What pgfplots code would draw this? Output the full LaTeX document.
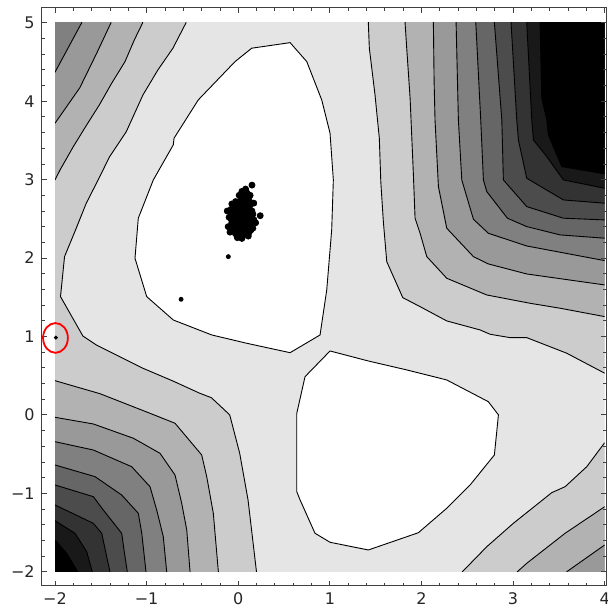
\documentclass[border=0pt]{standalone}
\usepackage{fontspec}
\setmainfont{DejaVu Sans}
\usepackage{pgfplots}
\pgfplotsset{compat=1.18}
\definecolor{g9}{gray}{0.9}
\definecolor{g8}{gray}{0.8}
\definecolor{g7}{gray}{0.7}
\definecolor{g6}{gray}{0.6}
\definecolor{g5}{gray}{0.5}
\definecolor{g4}{gray}{0.4}
\definecolor{g3}{gray}{0.3}
\definecolor{g2}{gray}{0.2}
\definecolor{g1}{gray}{0.1}
\definecolor{g0}{gray}{0.0}
\begin{document}
\begin{tikzpicture}
\useasboundingbox (-119.1pt,-100.05pt) rectangle (184.4pt,207.4pt);
\begin{axis}[x=45.8pt, y=39.2pt, xmin=-2, xmax=4, ymin=-2, ymax=5,
  hide axis, anchor=origin, at={(0pt,0pt)}, clip=true,
  every axis plot/.append style={line width=0.45pt}]
% background level
\addplot[fill=g9, draw=none] coordinates {(-3,-3) (5,-3) (5,6) (-3,6) (-3,-3)};
% left side, level 0.8 (contour from top to bottom)
\addplot[fill=g8, draw=black] coordinates {(-0.570,5.5) (-0.570,5) (-0.713,4.676) (-0.877,4.399) (-1.040,4.080) (-1.222,3.612) (-1.404,3.293) (-1.539,2.974) (-1.659,2.699) (-1.776,2.358) (-1.896,2.018) (-1.940,1.508) (-1.696,1.006) (-1.550,0.892) (-1.331,0.764) (-1.040,0.594) (-0.713,0.432) (-0.421,0.276) (-0.293,0.219) (-0.093,0.0) (0.016,-0.490) (0.107,-1.085) (0.199,-2) (0.199,-2.5) (-2.5,-2.5) (-2.5,5.5) (-0.570,5.5)};
% top-left bands
\addplot[fill=g7, draw=black] coordinates {(-1.043,5.5) (-1.043,5) (-1.134,4.782) (-1.236,4.505) (-1.381,4.230) (-1.516,3.953) (-1.654,3.698) (-1.800,3.421) (-1.945,3.124) (-2,2.996) (-2.5,2.996) (-2.5,5.5) (-1.043,5.5)};
\addplot[fill=g6, draw=black] coordinates {(-1.389,5.5) (-1.389,5) (-1.55,4.60) (-1.73,4.17) (-2,3.719) (-2.5,3.719) (-2.5,5.5) (-1.389,5.5)};
\addplot[fill=g5, draw=black] coordinates {(-1.709,5.5) (-1.709,5) (-2,4.370) (-2.5,4.370) (-2.5,5.5) (-1.709,5.5)};
% bottom-left bands
\addplot[fill=g7, draw=black] coordinates {(-2.5,0.436) (-2,0.436) (-1.509,0.27) (-0.963,0.02) (-0.690,-0.107) (-0.399,-0.511) (-0.344,-0.788) (-0.272,-1.255) (-0.217,-2) (-0.217,-2.5) (-2.5,-2.5) (-2.5,0.436)};
\addplot[fill=g6, draw=black] coordinates {(-2.5,-0.031) (-2,-0.031) (-1.582,-0.116) (-1.145,-0.298) (-0.854,-0.490) (-0.690,-0.767) (-0.617,-1.128) (-0.562,-1.468) (-0.526,-2) (-0.526,-2.5) (-2.5,-2.5) (-2.5,-0.031)};
\addplot[fill=g5, draw=black] coordinates {(-2.5,-0.342) (-2,-0.342) (-1.582,-0.448) (-1.163,-0.661) (-0.963,-0.916) (-0.890,-1.213) (-0.818,-1.554) (-0.781,-2) (-0.781,-2.5) (-2.5,-2.5) (-2.5,-0.342)};
\addplot[fill=g4, draw=black] coordinates {(-2.5,-0.639) (-2,-0.639) (-1.563,-0.788) (-1.272,-1.022) (-1.091,-1.255) (-1.053,-1.510) (-1.007,-2) (-1.007,-2.5) (-2.5,-2.5) (-2.5,-0.639)};
\addplot[fill=g3, draw=black] coordinates {(-2.5,-0.894) (-2,-0.894) (-1.582,-1.043) (-1.473,-1.213) (-1.272,-1.510) (-1.247,-1.723) (-1.211,-2) (-1.211,-2.5) (-2.5,-2.5) (-2.5,-0.894)};
\addplot[fill=g2, draw=black] coordinates {(-2.5,-1.149) (-2,-1.149) (-1.582,-1.383) (-1.490,-1.510) (-1.436,-1.809) (-1.400,-2) (-1.400,-2.5) (-2.5,-2.5) (-2.5,-1.149)};
\addplot[fill=g1, draw=black] coordinates {(-2.5,-1.349) (-2,-1.349) (-1.782,-1.510) (-1.654,-1.745) (-1.593,-2) (-1.593,-2.5) (-2.5,-2.5) (-2.5,-1.349)};
\addplot[fill=g0, draw=black] coordinates {(-2.5,-1.596) (-2,-1.596) (-1.872,-1.765) (-1.752,-2) (-1.752,-2.5) (-2.5,-2.5) (-2.5,-1.596)};
% top-right bands
\addplot[fill=g8, draw=black] coordinates {(1.420,5.5) (1.420,5) (1.431,4.676) (1.493,4.080) (1.540,3.528) (1.556,2.974) (1.584,2.464) (1.621,1.954) (1.796,1.495) (1.985,1.380) (2.276,1.198) (2.640,1.083) (2.749,1.028) (2.967,0.985) (3.149,0.985) (3.586,0.786) (4,0.531) (4.5,0.531) (4.5,5.5) (1.420,5.5)};
\addplot[fill=g7, draw=black] coordinates {(1.821,5.5) (1.821,5) (1.839,4.676) (1.876,4.038) (1.912,3.060) (1.930,2.508) (1.985,2.316) (2.058,2.018) (2.276,1.742) (2.713,1.529) (3.186,1.423) (3.513,1.360) (4,1.253) (4.5,1.253) (4.5,5.5) (1.821,5.5)};
\addplot[fill=g6, draw=black] coordinates {(2.130,5.5) (2.130,5) (2.138,4.250) (2.148,3.761) (2.185,2.911) (2.276,2.380) (2.567,2.018) (2.730,1.925) (3.149,1.797) (4,1.657) (4.5,1.657) (4.5,5.5) (2.130,5.5)};
\addplot[fill=g5, draw=black] coordinates {(2.378,5.5) (2.378,5) (2.403,3.761) (2.440,2.996) (2.567,2.495) (2.730,2.316) (3.149,2.154) (4,1.967) (4.5,1.967) (4.5,5.5) (2.378,5.5)};
\addplot[fill=g4, draw=black] coordinates {(2.593,5.5) (2.593,5) (2.647,3.761) (2.676,2.996) (2.713,2.847) (2.938,2.508) (3.149,2.401) (3.513,2.295) (4,2.253) (4.5,2.253) (4.5,5.5) (2.593,5.5)};
\addplot[fill=g3, draw=black] coordinates {(2.796,5.5) (2.796,5) (2.877,3.761) (2.894,2.996) (3.149,2.656) (3.549,2.508) (4,2.486) (4.5,2.486) (4.5,5.5) (2.796,5.5)};
\addplot[fill=g2, draw=black] coordinates {(2.978,5.5) (2.978,5) (3.040,3.761) (3.058,3.506) (3.149,3.018) (3.549,2.741) (4,2.699) (4.5,2.699) (4.5,5.5) (2.978,5.5)};
\addplot[fill=g1, draw=black] coordinates {(3.149,5.5) (3.149,5) (3.204,3.761) (3.222,3.506) (3.368,3.293) (3.549,2.996) (4,2.890) (4.5,2.890) (4.5,5.5) (3.149,5.5)};
\addplot[fill=g0, draw=black] coordinates {(3.295,5.5) (3.295,5) (3.313,4.038) (3.368,3.761) (3.385,3.570) (3.532,3.166) (4,3.073) (4.5,3.073) (4.5,5.5) (3.295,5.5)};
% bottom-right bands
\addplot[fill=g8, draw=black] coordinates {(2.447,-2.5) (2.447,-2) (2.713,-1.681) (3.003,-1.383) (3.422,-0.992) (3.568,-0.916) (3.804,-0.661) (4,-0.355) (4.5,-0.355) (4.5,-2.5) (2.447,-2.5)};
\addplot[fill=g7, draw=black] coordinates {(3.047,-2.5) (3.047,-2) (3.149,-1.893) (3.568,-1.510) (4,-1.171) (4.5,-1.171) (4.5,-2.5) (3.047,-2.5)};
\addplot[fill=g6, draw=black] coordinates {(3.586,-2.5) (3.586,-2) (4,-1.659) (4.5,-1.659) (4.5,-2.5) (3.586,-2.5)};
% white regions
\addplot[fill=white, draw=black] coordinates {(0.147,4.676) (0.566,4.747) (0.748,4.505) (0.911,4.017) (1.002,3.592) (1.038,2.996) (1.020,2.358) (0.966,1.593) (0.893,1.019) (0.566,0.793) (0.093,0.913) (-0.289,1.019) (-0.709,1.210) (-0.999,1.508) (-1.127,1.997) (-1.091,2.508) (-0.927,2.996) (-0.709,3.443) (-0.701,3.528) (-0.436,4.017) (-0.035,4.505) (0.147,4.676)};
\addplot[fill=white, draw=black] coordinates {(1.002,0.815) (1.420,0.687) (1.840,0.573) (2.276,0.445) (2.730,0.168) (2.840,0.0) (2.796,-0.511) (2.531,-0.894) (2.276,-1.191) (1.966,-1.503) (1.420,-1.723) (1.002,-1.625) (0.838,-1.510) (0.675,-1.085) (0.639,-0.980) (0.639,0.020) (0.729,0.487) (1.002,0.815)};
\end{axis}
\begin{axis}[x=45.8pt, y=39.2pt, xmin=-2.145, xmax=4.015, ymin=-2.179, ymax=5.191,
  anchor=origin, at={(0pt,0pt)},
  axis line style={black!75, line width=0.5pt},
  xtick={-2,-1,0,1,2,3,4}, xticklabels={−2,−1,0,1,2,3,4},
  ytick={-2,-1,0,1,2,3,4,5}, yticklabels={−2,−1,0,1,2,3,4,5},
  minor x tick num=4, minor y tick num=4,
  tick align=inside, major tick length=2.6pt, minor tick length=1.5pt,
  every tick/.style={black!75, line width=0.4pt},
  tick label style={font=\fontsize{8}{9.6}\selectfont, text=black!85}]
\addplot[only marks, mark=*, mark size=1.5pt, black] coordinates {
(0.04,2.55) (0.02,2.52) (0.06,2.58) (0.00,2.50) (0.08,2.60) (0.03,2.62) (0.05,2.47) (-0.01,2.57) (0.09,2.53) (0.01,2.44)
(0.07,2.66) (-0.03,2.54) (0.11,2.57) (0.04,2.40) (0.02,2.68) (0.06,2.72) (-0.05,2.49) (0.10,2.45) (0.12,2.64) (-0.04,2.61)
(0.00,2.37) (0.08,2.36) (0.03,2.76) (0.07,2.79) (-0.07,2.56) (0.14,2.52) (0.13,2.41) (-0.02,2.66) (0.05,2.33) (0.09,2.70)
(-0.06,2.44) (0.01,2.30) (0.11,2.75) (0.15,2.60) (-0.08,2.50) (0.10,2.82) (0.04,2.85) (-0.03,2.72) (0.12,2.33) (-0.05,2.38)
(0.02,2.59) (0.06,2.51) (0.08,2.46) (0.00,2.63) (0.05,2.64) (0.03,2.48) (0.07,2.42) (-0.01,2.46) (0.09,2.62) (0.01,2.55)
(-0.10,2.52) (-0.11,2.40) (-0.09,2.33) (0.17,2.49) (0.16,2.38) (-0.01,2.26) (0.04,2.25) (0.13,2.80) (0.08,2.88) (0.15,2.93)
(0.24,2.54) (-0.12,2.60) (0.17,2.70) (0.19,2.45) (-0.07,2.69) (0.11,2.28)
(0.03,2.70) (0.06,2.38) (-0.02,2.41) (0.10,2.38) (0.12,2.50) (-0.04,2.66) (0.05,2.79) (0.09,2.76) (0.13,2.68) (-0.06,2.53)
(0.02,2.35) (0.07,2.30) (-0.03,2.31) (0.14,2.45) (0.11,2.68) (0.01,2.80) (0.06,2.84) (-0.08,2.62) (0.16,2.56) (0.04,2.43)
(-0.01,2.71) (0.08,2.52) (0.10,2.62) (-0.02,2.49) (0.05,2.56) (0.12,2.73) (0.03,2.28) (-0.07,2.45) (0.14,2.36) (0.09,2.84)};
\addplot[only marks, mark=*, mark size=1.0pt, black] coordinates {(-0.108,2.018) (-0.624,1.474)};
\addplot[only marks, mark=*, mark size=0.8pt, black] coordinates {(-1.99,0.985)};
\addplot[only marks, mark=o, mark size=6.2pt, mark options={draw=red, line width=0.9pt, yscale=1.2}] coordinates {(-1.995,0.981)};
\end{axis}
\end{tikzpicture}
\end{document}
